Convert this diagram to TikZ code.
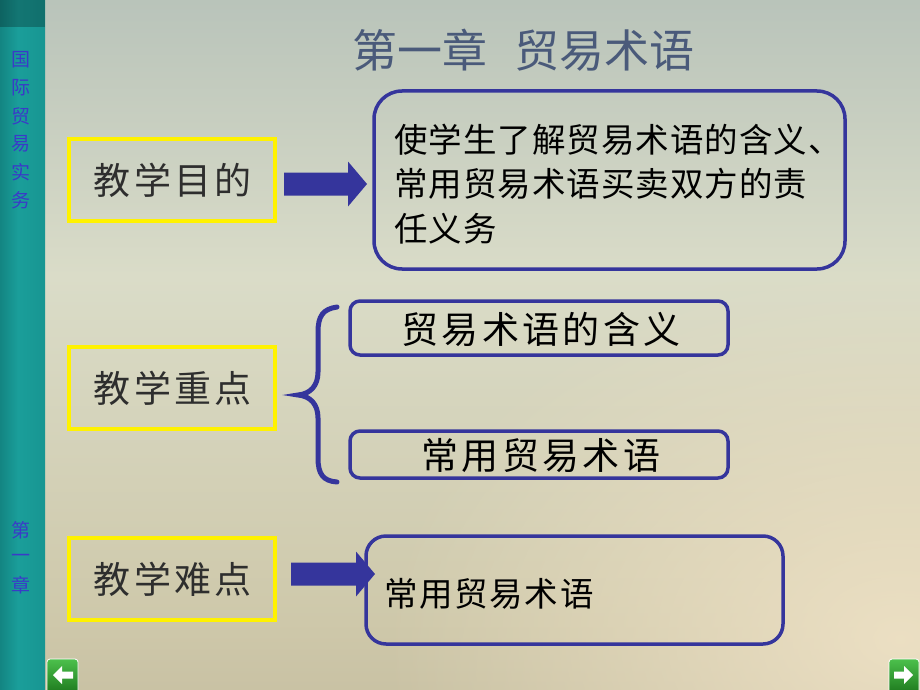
\documentclass[tikz,border=0pt]{standalone}
\usepackage{fontspec}
\setmainfont{Noto Sans CJK SC}
\newfontfamily\lsA[LetterSpace=9]{Noto Sans CJK SC}
\newfontfamily\lsB[LetterSpace=3]{Noto Sans CJK SC}
\newfontfamily\lsC[LetterSpace=5]{Noto Sans CJK SC}
\usetikzlibrary{calc,fadings}
\definecolor{navy}{HTML}{35359C}
\definecolor{ttl}{HTML}{4A5A7A}
\definecolor{txt}{HTML}{2E2E2E}
\definecolor{side}{HTML}{3A3AC8}
\definecolor{bg0}{HTML}{7B9494}
\definecolor{bg1}{HTML}{B4C0B8}
\definecolor{bg2}{HTML}{DADCC8}
\definecolor{bg3}{HTML}{CEC8AA}
\definecolor{bg4}{HTML}{AFA286}
\definecolor{warm}{HTML}{EFE2C6}
\definecolor{sd}{HTML}{0A6664}
\definecolor{sb}{HTML}{1A9E9A}
\definecolor{gdk}{HTML}{1E7A1E}
\definecolor{glt}{HTML}{4CC04C}
\pgfdeclareverticalshading{bgv}{100bp}{color(0bp)=(bg4); color(30bp)=(bg3); color(55bp)=(bg2); color(78bp)=(bg1); color(100bp)=(bg0)}
\pgfdeclarehorizontalshading{sidev}{100bp}{color(0bp)=(sd); color(45bp)=(sb); color(85bp)=(sb!80!sd); color(100bp)=(sd)}
\tikzfading[name=softcirc, inner color=transparent!0, outer color=transparent!100]
\newcommand\fz[2]{\fontsize{#1}{#2}\selectfont}
\tikzset{
  ybox/.style={draw=yellow, line width=4pt, minimum width=206pt, minimum height=82pt, inner sep=0pt, text=txt, font=\lsA\fz{37}{40}},
  rbox/.style={draw=navy, line width=3.5pt, inner sep=0pt},
  sidetxt/.style={text=side, font=\fz{19}{22}, inner sep=0pt},
}
\newcommand\fatarrow[2]{\fill[navy] let \p1=(#1), \p2=(#2) in
  (\x1,\y1-11.5pt) -- (\x2-19pt,\y1-11.5pt) -- (\x2-19pt,\y1-22.5pt) -- (\x2,\y1) -- (\x2-19pt,\y1+22.5pt) -- (\x2-19pt,\y1+11.5pt) -- (\x1,\y1+11.5pt) -- cycle;}
\begin{document}
\begin{tikzpicture}[x=1pt,y=-1pt]
\useasboundingbox (0,0) rectangle (920,690);
% background
\shade[shading=bgv] (0,0) rectangle (920,690);
\fill[warm, path fading=softcirc, opacity=0.9] (900,640) ellipse (520 and 380);
% sidebar
\shade[shading=sidev] (0,0) rectangle (45,690);
\fill[black, opacity=0.25] (0,0) rectangle (45,27);
\foreach \c/\y [count=\i] in {国/60,际/88,贸/116,易/144,实/172,务/200}
  \node[sidetxt] (s\i) at (21,\y) {\c};
\foreach \c/\y [count=\i] in {第/530,一/558,章/585}
  \node[sidetxt] (c\i) at (21,\y) {\c};
% title
\node[text=ttl, font=\fz{45}{50}] (title) at (523,50) {第一章\hspace{0.6em}贸易术语};
% left boxes
\node[ybox] (g1) at (172,180) {\hspace{1.7pt}教学目的};
\node[ybox] (g2) at (172,388) {\hspace{1.7pt}教学重点};
\node[ybox] (g3) at (172,579) {\hspace{1.7pt}教学难点};
% goal box
\draw[rbox, rounded corners=28pt] (374,91) rectangle (845,269);
\node[rbox, draw=none, minimum width=471pt, minimum height=178pt] (r1) at (609.5,180) {};
\node[anchor=west, align=left, text=black, font=\lsB\fz{33.5}{44.5}, inner sep=0pt] (r1t) at (394,184)
  {使学生了解贸易术语的含义、\\常用贸易术语买卖双方的责\\任义务};
% key points
\draw[rbox, rounded corners=10pt] (350,301) rectangle (728,355);
\node[minimum width=378pt, minimum height=54pt, inner sep=0pt, text=black, font=\lsA\fz{37}{40}] (k1) at (541,329) {贸易术语的含义};
\draw[rbox, rounded corners=10pt] (350,431) rectangle (728,478);
\node[minimum width=378pt, minimum height=47pt, inner sep=0pt, text=black, font=\lsA\fz{37}{40}] (k2) at (541,456) {常用贸易术语};
% brace
\draw[navy, line width=5pt, line cap=round]
  (337,307) .. controls (323,309) and (318,316) .. (318,332)
  -- (318,372) .. controls (318,386) and (310,394) .. (298,395)
  .. controls (310,396) and (318,404) .. (318,418)
  -- (318,458) .. controls (318,474) and (323,481) .. (337,482);
% difficulty box
\draw[rbox, rounded corners=20pt] (366,536) rectangle (783,644);
\node[minimum width=417pt, minimum height=108pt, inner sep=0pt] (d1) at (574.5,590) {};
\node[anchor=west, text=black, font=\lsC\fz{33.5}{40}, inner sep=0pt] (d1t) at (384,594) {常用贸易术语};
% arrows
\coordinate (a1s) at (284,184);
\coordinate (a1e) at (367,184);
\fatarrow{a1s}{a1e}
\coordinate (a2s) at (291,574);
\coordinate (a2e) at (375,574);
\fatarrow{a2s}{a2e}
% nav buttons
\shade[top color=glt, bottom color=gdk, draw=white, line width=0.8pt, rounded corners=3pt] (47,659) rectangle (78,693);
\fill[white] (53,675) -- (62,666) -- (62,671.5) -- (73,671.5) -- (73,678.5) -- (62,678.5) -- (62,684) -- cycle;
\shade[top color=glt, bottom color=gdk, draw=white, line width=0.8pt, rounded corners=3pt] (889,659) rectangle (919,693);
\fill[white] (913,675) -- (904,666) -- (904,671.5) -- (894,671.5) -- (894,678.5) -- (904,678.5) -- (904,684) -- cycle;
\end{tikzpicture}
\end{document}
